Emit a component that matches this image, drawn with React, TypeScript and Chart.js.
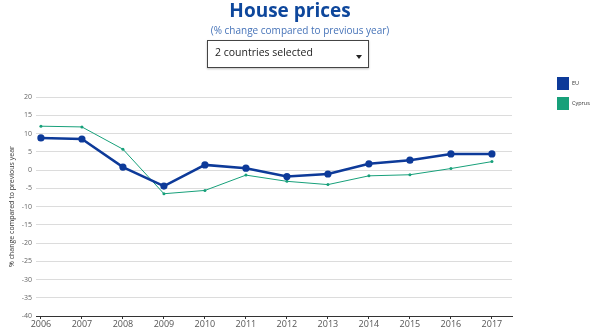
import React, { useEffect, useRef } from "react";
import { Chart, registerables } from "chart.js";

Chart.register(...registerables);

const years = [2006, 2007, 2008, 2009, 2010, 2011, 2012, 2013, 2014, 2015, 2016, 2017];
const euValues = [8.8, 8.5, 0.8, -4.4, 1.4, 0.5, -1.8, -1.1, 1.7, 2.7, 4.4, 4.4];
const cyprusValues = [12.0, 11.8, 5.7, -6.5, -5.6, -1.4, -3.1, -4.0, -1.6, -1.3, 0.4, 2.3];
const yTicks = [20, 15, 10, 5, 0, -5, -10, -15, -20, -25, -30, -35, -40];
const seriesNames = ["EU", "Cyprus"];

const EU_COLOR = "#0d3a99";
const CY_COLOR = "#17a07a";

export default function App() {
  const canvasRef = useRef<HTMLCanvasElement | null>(null);

  useEffect(() => {
    if (!canvasRef.current) return;
    const chart = new Chart(canvasRef.current, {
      type: "line",
      data: {
        datasets: [
          {
            label: seriesNames[0],
            data: years.map((x, i) => ({ x, y: euValues[i] })),
            borderColor: EU_COLOR,
            backgroundColor: EU_COLOR,
            borderWidth: 2.5,
            pointRadius: 3.6,
            pointBorderWidth: 0,
            pointBackgroundColor: EU_COLOR,
            pointBorderColor: EU_COLOR,
            tension: 0,
          },
          {
            label: seriesNames[1],
            data: years.map((x, i) => ({ x, y: cyprusValues[i] })),
            borderColor: CY_COLOR,
            backgroundColor: CY_COLOR,
            borderWidth: 1,
            pointRadius: 1.5,
            pointBorderWidth: 0,
            pointBackgroundColor: CY_COLOR,
            pointBorderColor: CY_COLOR,
            tension: 0,
          },
        ],
      },
      options: {
        animation: false,
        responsive: false,
        maintainAspectRatio: false,
        layout: { padding: { top: 97, right: 88, left: 0, bottom: 0 } },
        plugins: { legend: { display: false }, tooltip: { enabled: false } },
        scales: {
          x: {
            type: "linear",
            min: 2005.88,
            max: 2017.49,
            afterBuildTicks: (axis: any) => {
              axis.ticks = years.map((v) => ({ value: v }));
            },
            afterFit: (scale: any) => {
              scale.height = 19;
            },
            ticks: {
              callback: (v: any) => String(v),
              color: "#555",
              font: { family: "Open Sans", size: 9 },
              padding: 0,
              maxRotation: 0,
              autoSkip: false,
            },
            grid: {
              drawOnChartArea: false,
              drawTicks: true,
              tickLength: 3,
              color: "#333",
            },
            border: { display: true, color: "#333", width: 1 },
          },
          y: {
            min: -40,
            max: 20,
            afterBuildTicks: (axis: any) => {
              axis.ticks = yTicks.map((v) => ({ value: v }));
            },
            afterFit: (scale: any) => {
              scale.width = 36;
            },
            ticks: {
              color: "#666",
              font: { family: "Open Sans", size: 7 },
              padding: 4,
            },
            grid: { color: "#dcdcdc", drawTicks: false, lineWidth: 1 },
            border: { display: false },
            title: {
              display: true,
              text: "% change compared to previous year",
              color: "#333",
              font: { family: "Open Sans", size: 7 },
              padding: { top: 8, bottom: 0 },
            },
          },
        },
      },
    });
    return () => chart.destroy();
  }, []);

  return (
    <div
      style={{
        position: "absolute",
        left: 0,
        top: 0,
        width: 600,
        height: 335,
        background: "#fff",
        fontFamily: "Open Sans, sans-serif",
        overflow: "hidden",
      }}
    >
      <canvas
        ref={canvasRef}
        width={600}
        height={335}
        style={{ position: "absolute", left: 0, top: 0, width: 600, height: 335 }}
      />
      <div
        style={{
          position: "absolute",
          left: 0,
          top: -3,
          width: 580,
          textAlign: "center",
          fontSize: 19,
          fontWeight: 700,
          color: "#0e479c",
        }}
      >
        House prices
      </div>
      <div
        style={{
          position: "absolute",
          left: 0,
          top: 23,
          width: 600,
          textAlign: "center",
          fontSize: 10,
          color: "#4673b8",
        }}
      >
        (% change compared to previous year)
      </div>
      <div
        style={{
          position: "absolute",
          left: 207,
          top: 40,
          width: 160,
          height: 26,
          border: "1px solid #444",
          boxShadow: "0 1px 2px rgba(0,0,0,0.25)",
          background: "#fff",
        }}
      >
        <div
          style={{
            position: "absolute",
            left: 7,
            top: 4,
            fontSize: 10.5,
            color: "#222",
            whiteSpace: "nowrap",
          }}
        >
          2 countries selected
        </div>
        <div
          style={{
            position: "absolute",
            left: 148,
            top: 14,
            width: 0,
            height: 0,
            borderLeft: "3px solid transparent",
            borderRight: "3px solid transparent",
            borderTop: "4px solid #222",
          }}
        />
      </div>
      <div
        style={{
          position: "absolute",
          left: 557,
          top: 77,
          width: 12,
          height: 13,
          background: EU_COLOR,
        }}
      />
      <div style={{ position: "absolute", left: 572, top: 79, fontSize: 5.5, color: "#333", whiteSpace: "nowrap" }}>
        {seriesNames[0]}
      </div>
      <div
        style={{
          position: "absolute",
          left: 557,
          top: 97,
          width: 12,
          height: 13,
          background: CY_COLOR,
        }}
      />
      <div style={{ position: "absolute", left: 572, top: 99, fontSize: 5.5, color: "#333", whiteSpace: "nowrap" }}>
        {seriesNames[1]}
      </div>
    </div>
  );
}
